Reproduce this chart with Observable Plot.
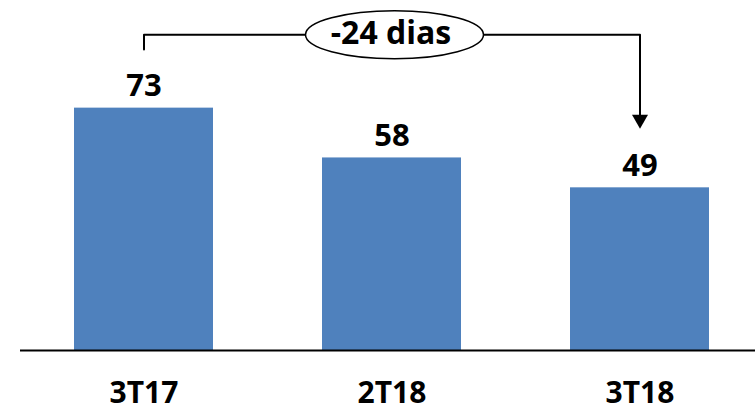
<!DOCTYPE html>
<html>
<head>
<meta charset="utf-8">
<script src="https://cdn.jsdelivr.net/npm/d3@7"></script>
<script src="https://cdn.jsdelivr.net/npm/@observablehq/plot@0.6"></script>
<style>
  html, body { margin: 0; padding: 0; background: #ffffff; }
</style>
</head>
<body>
<div id="chart"></div>
<script>
// ---- data ----
const periods = ["3T17", "2T18", "3T18"];
const values = [73, 58, 49];
const bracketLabel = "-24 dias";
const bracketFrom = "3T17";
const bracketTo = "3T18";
const bracketMid = "2T18";
// bracket levels in data units
const bracketStart = 90.7;
const bracketLevel = 95.1;
const bracketEnd = 69.5;
const arrowTip = 66.8;

const data = periods.map((p, i) => ({period: p, value: values[i]}));
const bracketPath = [
  {x: bracketFrom, y: bracketStart},
  {x: bracketFrom, y: bracketLevel},
  {x: bracketTo, y: bracketLevel},
  {x: bracketTo, y: bracketEnd}
];

const k = 0.5523;
const ellipseSymbol = {
  draw(context) {
    const rx = 89, ry = 24;
    context.moveTo(rx, 0);
    context.bezierCurveTo(rx, k * ry, k * rx, ry, 0, ry);
    context.bezierCurveTo(-k * rx, ry, -rx, k * ry, -rx, 0);
    context.bezierCurveTo(-rx, -k * ry, -k * rx, -ry, 0, -ry);
    context.bezierCurveTo(k * rx, -ry, rx, -k * ry, rx, 0);
    context.closePath();
  }
};
const downTriangle = {
  draw(context) {
    context.moveTo(0, 0);
    context.lineTo(-8, -14);
    context.lineTo(8, -14);
    context.closePath();
  }
};

const font = "'Open Sans', 'DejaVu Sans', sans-serif";

const chart = Plot.plot({
  width: 755,
  height: 412,
  marginTop: 18,
  marginBottom: 62,
  marginLeft: 20,
  marginRight: 0,
  style: {fontFamily: font, background: "#ffffff", overflow: "visible"},
  x: {domain: periods, range: [20, 762], paddingInner: 0.44, paddingOuter: 0.213, axis: null},
  y: {domain: [0, 100], axis: null},
  marks: [
    Plot.barY(data, {x: "period", y: "value", fill: "#4F81BD"}),
    Plot.ruleY([0], {stroke: "#000", strokeWidth: 2}),
    Plot.text(data, {
      x: "period", y: "value", text: d => String(d.value),
      dy: -22, lineAnchor: "middle", fontSize: 31, fontWeight: "bold", fill: "#000"
    }),
    Plot.text(periods, {
      x: d => d, text: d => d, frameAnchor: "bottom",
      lineAnchor: "top", dy: 31, fontSize: 30, fontWeight: "bold", fill: "#000"
    }),
    Plot.line(bracketPath, {x: "x", y: "y", stroke: "#000", strokeWidth: 2, curve: "linear"}),
    Plot.dot([bracketMid], {
      x: d => d, y: () => bracketLevel, dx: 2.5, symbol: ellipseSymbol,
      fill: "#fff", stroke: "#000", strokeWidth: 1.5
    }),
    Plot.dot([bracketTo], {
      x: d => d, y: () => arrowTip, symbol: downTriangle, fill: "#000", stroke: "none"
    }),
    Plot.text([bracketLabel], {
      x: () => bracketMid, y: () => bracketLevel, text: d => d, dx: -1, dy: -1.5,
      lineAnchor: "middle", fontSize: 32, fontWeight: "bold", fill: "#000"
    })
  ]
});
document.getElementById("chart").appendChild(chart);
</script>
</body>
</html>
